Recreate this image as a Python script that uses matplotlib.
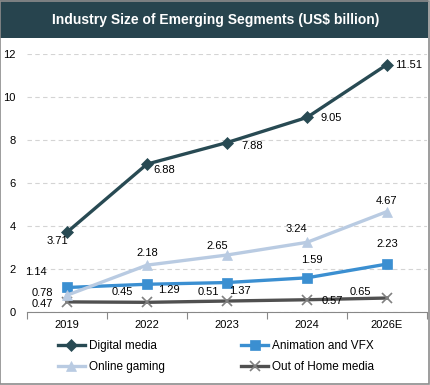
import matplotlib
matplotlib.use("Agg")
import matplotlib.pyplot as plt
import matplotlib.patches as patches

plt.rcParams['font.family'] = ['Liberation Sans', 'DejaVu Sans']

years = ['2019', '2022', '2023', '2024', '2026E']
digital_media = [3.71, 6.88, 7.88, 9.05, 11.51]
animation_vfx = [1.14, 1.29, 1.37, 1.59, 2.23]
online_gaming = [0.78, 2.18, 2.65, 3.24, 4.67]
out_of_home = [0.47, 0.45, 0.51, 0.57, 0.65]

# label offsets in pixels (dx, dy) for each point
off_dm = [(-10, -9), (17, -6), (25, -3), (24, -1), (22, 0)]
off_av = [(-31, 15), (22, -6), (13, -8), (5, 18), (0, 20)]
off_og = [(-25, 2), (0, 12), (-10, 9), (-11, 13), (0, 11)]
off_oh = [(-25, -2), (-25, 10), (-19, 9), (25, -1), (-27, 6)]

W, H = 431, 385
fig = plt.figure(figsize=(W/100, H/100), dpi=100)
ax = fig.add_axes([27/W, 1-312/H, 400/W, 258/H])

x = list(range(len(years)))
series = [
    ('Digital media', digital_media, '#284a53', 'D', 6.5, off_dm),
    ('Animation and VFX', animation_vfx, '#3b8fd1', 's', 7, off_av),
    ('Online gaming', online_gaming, '#b9cbe2', '^', 7, off_og),
    ('Out of Home media', out_of_home, '#505050', 'x', 7, off_oh),
]
handles = {}
for name, vals, col, mk, ms, offs in series:
    z = 3 if name != 'Out of Home media' else 2
    ln, = ax.plot(x, vals, color=col, lw=2.4, marker=mk, markersize=ms,
                  markeredgewidth=1.2 if mk == 'x' else 0.5,
                  markeredgecolor='#808080' if mk == 'x' else col, label=name, zorder=z)
    handles[name] = ln
    for xi, v, (dx, dy) in zip(x, vals, offs):
        ax.annotate(f'{v:.2f}', (xi, v), xytext=(dx, dy), textcoords='offset pixels',
                    ha='center', va='center', fontsize=8, color='black', zorder=5)

ax.set_xlim(-0.5, 4.5)
ax.set_ylim(0, 12)
ax.set_yticks(range(0, 13, 2))
ax.set_xticks(x)
ax.set_xticklabels(years)
ax.set_xticks([i - 0.5 for i in range(6)], minor=True)
ax.tick_params(axis='x', which='major', length=0, pad=6, labelsize=8)
ax.tick_params(axis='x', which='minor', length=5, color='#888888', width=0.8)
ax.tick_params(axis='y', length=0, pad=8, labelsize=8)
for s in ['top', 'right', 'left']:
    ax.spines[s].set_visible(False)
ax.spines['bottom'].set_color('#888888')
ax.spines['bottom'].set_linewidth(0.8)
ax.yaxis.grid(True, color='#d4d4d4', linestyle=(0, (4, 3)), linewidth=0.8)
ax.set_axisbelow(True)

order = ['Digital media', 'Online gaming', 'Animation and VFX', 'Out of Home media']
fig.legend([handles[n] for n in order], order, ncol=2, frameon=False, fontsize=8.5,
           loc='upper left', bbox_to_anchor=(58/W, 1-340/H), handlelength=2.25,
           handletextpad=0.35, columnspacing=6.5, labelspacing=0.75, borderaxespad=0,
           borderpad=0)

# title banner and frame
fig.patches.append(patches.Rectangle((0, 1-38/H), 428/W, 38/H, transform=fig.transFigure,
                                     facecolor='#27444e', edgecolor='none', zorder=0))
fig.text(216/W, 1-20/H, 'Industry Size of Emerging Segments (US$ billion)', ha='center',
         va='center', color='white', fontsize=10, fontweight='bold')
fig.patches.append(patches.Rectangle((0.5/W, 1.5/H), 429/W, 1-2/H, transform=fig.transFigure,
                                     facecolor='none', edgecolor='#8c8c8c', lw=1.2, zorder=1))

fig.savefig('out.png', dpi=100)
